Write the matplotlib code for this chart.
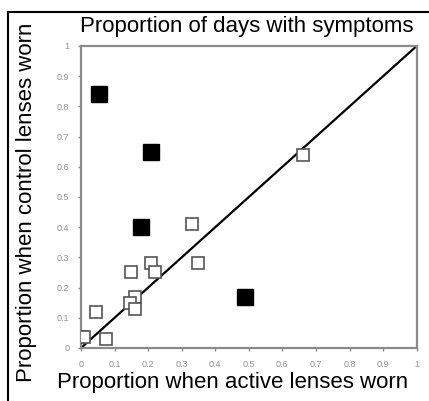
import matplotlib
matplotlib.use("Agg")
import matplotlib.pyplot as plt
from matplotlib.lines import Line2D

plt.rcParams["font.family"] = ["Liberation Sans", "DejaVu Sans"]

# open squares: subjects without a clear effect
open_x = [0.33, 0.35, 0.21, 0.22, 0.15, 0.16, 0.145, 0.16, 0.045, 0.0, 0.01, 0.075, 0.66]
open_y = [0.41, 0.28, 0.28, 0.25, 0.25, 0.17, 0.15, 0.13, 0.12, 0.035, 0.035, 0.03, 0.64]

# filled squares
filled_x = [0.055, 0.21, 0.18, 0.49]
filled_y = [0.84, 0.65, 0.40, 0.17]

ticks = [0, 0.1, 0.2, 0.3, 0.4, 0.5, 0.6, 0.7, 0.8, 0.9, 1]
tick_labels = ["0", "0.1", "0.2", "0.3", "0.4", "0.5", "0.6", "0.7", "0.8", "0.9", "1"]

grey = "#8a8a8a"

fig = plt.figure(figsize=(4.29, 4.01), dpi=100)
ax = fig.add_axes([0.1888, 0.1322, 0.7825, 0.7531])

ax.plot([0, 1], [0, 1], color="black", lw=1.6, zorder=2)
ax.plot(open_x, open_y, "s", ms=8.5, mfc="white", mec="#555555", mew=1.2,
        ls="none", zorder=3)
ax.plot(filled_x, filled_y, "s", ms=11.5, mfc="black", mec="black",
        ls="none", zorder=4)

ax.set_xlim(0, 1)
ax.set_ylim(0, 1)
ax.set_xticks(ticks)
ax.set_xticklabels(tick_labels)
ax.set_yticks(ticks)
ax.set_yticklabels(tick_labels)
ax.tick_params(colors=grey, labelcolor="#8f8f8f", labelsize=6.5, length=2.5,
               width=1, pad=6)
for sp in ax.spines.values():
    sp.set_color(grey)
    sp.set_linewidth(1.6)

fig.text(0.575, 0.933, "Proportion of days with symptoms", ha="center",
         va="center", fontsize=16)
fig.text(0.542, 0.047, "Proportion when active lenses worn", ha="center",
         va="center", fontsize=16)
fig.text(0.061, 0.496, "Proportion when control lenses worn", ha="center",
         va="center", rotation=90, fontsize=16)

# frame lines at top and left
fig.add_artist(Line2D([8 / 429, 1], [1 - 12 / 401, 1 - 12 / 401],
                      color="black", lw=1.5, transform=fig.transFigure))
fig.add_artist(Line2D([8 / 429, 8 / 429], [0, 1 - 12 / 401],
                      color="black", lw=1.5, transform=fig.transFigure))

fig.savefig("out.png", dpi=100)
